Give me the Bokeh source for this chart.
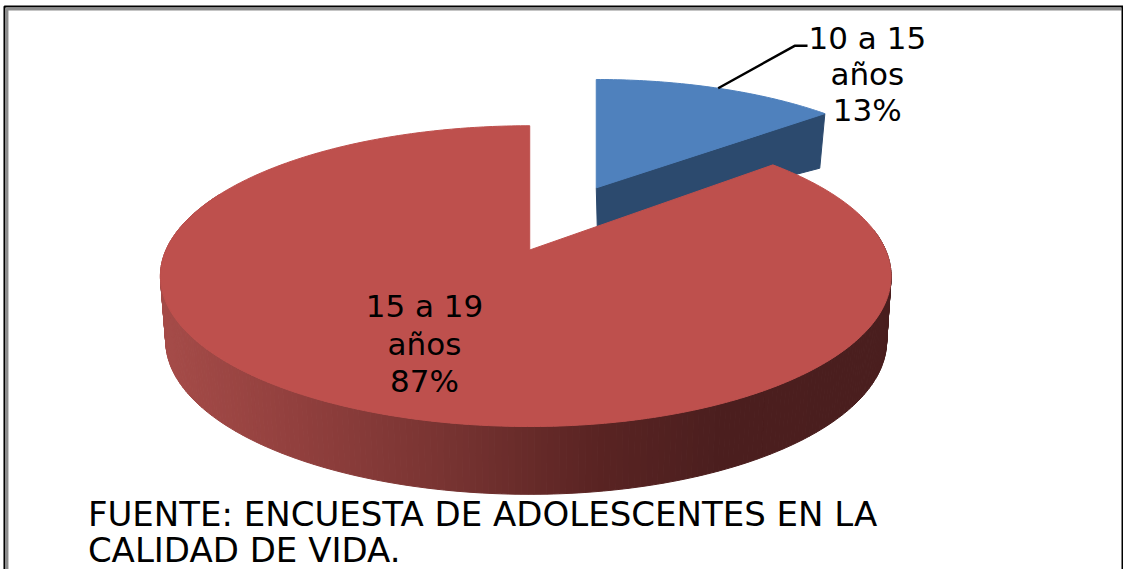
import numpy as np
from bokeh.plotting import figure
from bokeh.embed import file_html
from bokeh.resources import INLINE
from bokeh.core.properties import value

# --- data
age_groups = ["10 a 15 años", "15 a 19 años"]
shares = [13, 87]
label_lines_a = ["10 a 15", "años", "13%"]
label_lines_b = ["15 a 19", "años", "87%"]
source_lines = ["FUENTE: ENCUESTA DE ADOLESCENTES EN LA", "CALIDAD DE VIDA."]

# --- colours
blue_top, blue_side = "#4F81BD", "#2C4A6E"
red_top = "#BE504D"
side_x = [165, 300, 450, 600, 720, 900]
side_rgb = [(166, 76, 73), (146, 64, 62), (120, 52, 50), (90, 36, 35), (76, 31, 31), (74, 30, 30)]
FONT = "DejaVu Sans"
W, H = 1131, 577

p = figure(width=W - 8, height=H - 8, x_range=(0, W), y_range=(H, 0), output_backend="svg",
           toolbar_location=None, min_border=0, outline_line_color=None,
           background_fill_color="white", border_fill_color="white")
p.axis.visible = False
p.grid.visible = False

PERSP = 0.1738
WARP = np.deg2rad(2.7)


def project(theta, cx, cy, ar, al, b, p_=PERSP):
    t = theta + WARP * np.sin(2 * theta)
    u, v = np.sin(t), np.cos(t)
    w = 1 + p_ * v
    a = np.where(u >= 0, ar, al)
    return cx + a * u / w, cy - b * v / w


split = 2 * np.pi * shares[0] / sum(shares)

# blue slice (exploded away from red)
BT = dict(cx=600, cy=190, ar=337, al=337, b=129)
BB = dict(cx=601, cy=229, ar=328, al=328, b=101)
tb = np.linspace(0, split, 60)
bx, by = project(tb, **BT)
lx, ly = project(tb[-1:], **BB)
p.patch([BT["cx"], bx[-1], lx[0], BB["cx"]], [BT["cy"], by[-1], ly[0], BB["cy"]],
        fill_color=blue_side, line_color=blue_side, line_width=1)
p.patch(np.r_[BT["cx"], bx], np.r_[BT["cy"], by], fill_color=blue_top, line_color=blue_top, line_width=1)

# red slice
RT = dict(cx=533, cy=253, ar=358.4, al=366.3, b=147.9)
RB = dict(cx=533, cy=318, ar=354, al=361, b=151)
tr = np.linspace(split, 2 * np.pi, 400)
tx, ty = project(tr, **RT)
ux, uy = project(tr, **RB)
vis = (tr > np.pi / 2 * 0.9) & (tr < 3 * np.pi / 2 * 1.1)
idx = np.where(vis)[0]
qx, qy, qc = [], [], []
for i, j in zip(idx[:-1], idx[1:]):
    qx.append([tx[i], tx[j], ux[j], ux[i]])
    qy.append([ty[i], ty[j], uy[j], uy[i]])
    xm = (ux[i] + ux[j]) / 2
    r, g, b = [float(np.interp(xm, side_x, [c[k] for c in side_rgb])) for k in range(3)]
    qc.append("#%02X%02X%02X" % (int(r), int(g), int(b)))
p.patches(qx, qy, fill_color=qc, line_color=qc, line_width=1)
p.patch(np.r_[RT["cx"], tx], np.r_[RT["cy"], ty], fill_color=red_top, line_color=red_top, line_width=1)

# frame: black outer rule, grey inner rule, open at the bottom
p.line([W, 4, 4], [6, 6, H], line_color="black", line_width=2)
p.line([W - 2, 6.5, 6.5], [8.5, 8.5, H], line_color="#8C8C8C", line_width=3)
p.line([W - 1, W - 1], [6, H], line_color="black", line_width=2)

# leader
lead_x, lead_y = project(np.array([np.deg2rad(23.0)]), **BT)
p.line([lead_x[0], lead_x[0] + 77, lead_x[0] + 90], [lead_y[0], 46, 46], line_color="black", line_width=2.5)


def lines(xs, ys, txt, size, align="center"):
    p.text(xs, ys, text=txt, text_font=value(FONT), text_font_size=size,
           text_color="black", text_align=align, text_baseline="middle")


lines([873] * 3, [38, 75, 111], label_lines_a, "31px")
lines([427] * 3, [310, 348, 386], label_lines_b, "31px")
lines([88, 88], [521, 557], source_lines, "34px", "left")

open("out.html", "w").write(file_html(p, INLINE))
